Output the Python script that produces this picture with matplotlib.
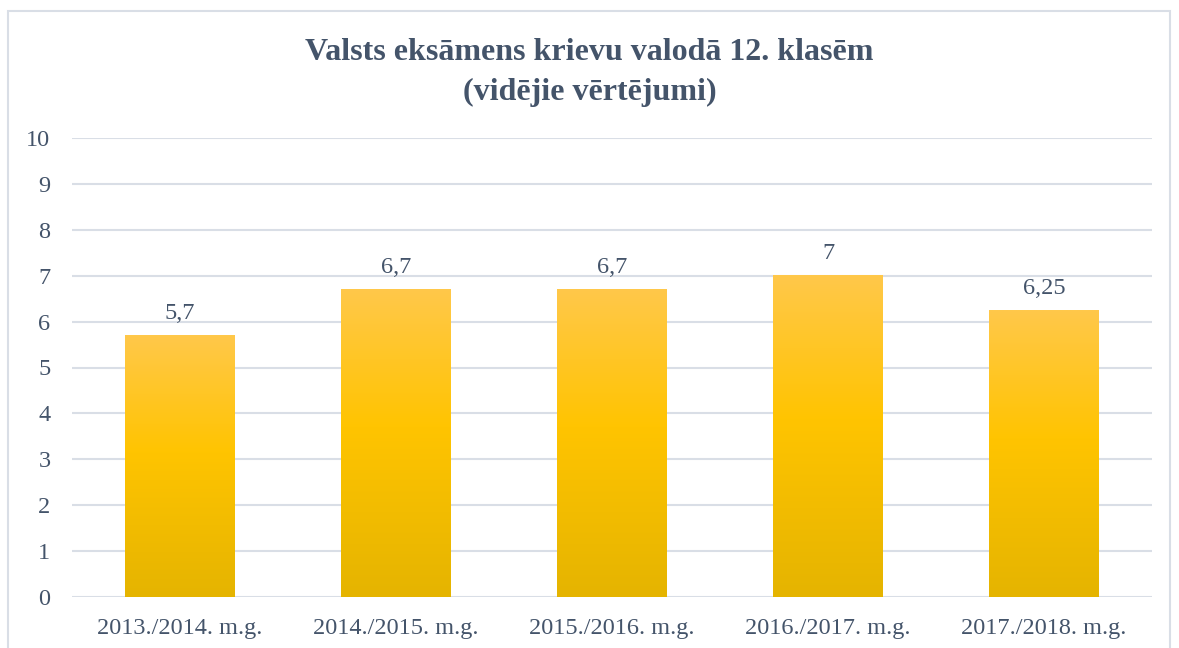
import matplotlib
matplotlib.use("Agg")
import matplotlib.pyplot as plt
import numpy as np
from matplotlib.colors import LinearSegmentedColormap
from matplotlib.patches import Rectangle

categories = ["2013./2014. m.g.", "2014./2015. m.g.", "2015./2016. m.g.", "2016./2017. m.g.", "2017./2018. m.g."]
values = [5.7, 6.7, 6.7, 7.0, 6.25]
labels = ["5,7", "6,7", "6,7", "7", "6,25"]
yticks = list(range(0, 11))

plt.rcParams['font.family'] = ['Liberation Serif', 'DejaVu Serif']
text_color = "#44546A"
grid_color = "#D9DEE6"

fig = plt.figure(figsize=(11.79, 6.48), dpi=100)
fig.patches.append(Rectangle((8/1179, -0.02), 1162/1179, 1.02 - 11/648, transform=fig.transFigure,
                             fill=False, edgecolor="#D9DEE6", linewidth=1.5))
ax = fig.add_axes([72/1179, 1 - 597/648, 1080/1179, (597 - 138)/648])

cmap = LinearSegmentedColormap.from_list("gold", [(0, "#E5B400"), (0.55, "#FFC400"), (1, "#FFC84A")])
grad = np.linspace(0, 1, 256).reshape(-1, 1)
width = 0.505
x = np.arange(len(categories))
for xi, v, lab in zip(x, values, labels):
    ax.imshow(grad, cmap=cmap, origin="lower", aspect="auto",
              extent=(xi - width / 2, xi + width / 2, 0, v), zorder=3)
    ax.text(xi, v + 0.25, lab, ha="center", va="bottom", fontsize=17.5, color=text_color, zorder=4)

ax.set_xlim(-0.5, len(categories) - 0.5)
ax.set_ylim(0, 10)
ax.set_yticks(yticks)
ax.set_xticks(x)
ax.set_xticklabels(categories)
ax.tick_params(axis="both", length=0, labelsize=17.5, labelcolor=text_color)
ax.tick_params(axis="y", pad=15.5)
ax.tick_params(axis="x", pad=15)
ax.grid(axis="y", color=grid_color, linewidth=1.5, zorder=0)
ax.set_axisbelow(True)
for s in ax.spines.values():
    s.set_visible(False)

fig.text(0.5, 1 - 52/648, "Valsts eksāmens krievu valodā 12. klasēm", ha="center", va="center",
         fontsize=23, fontweight="bold", color=text_color)
fig.text(0.5, 1 - 92/648, "(vidējie vērtējumi)", ha="center", va="center",
         fontsize=23, fontweight="bold", color=text_color)

fig.savefig("out.png", dpi=100)
